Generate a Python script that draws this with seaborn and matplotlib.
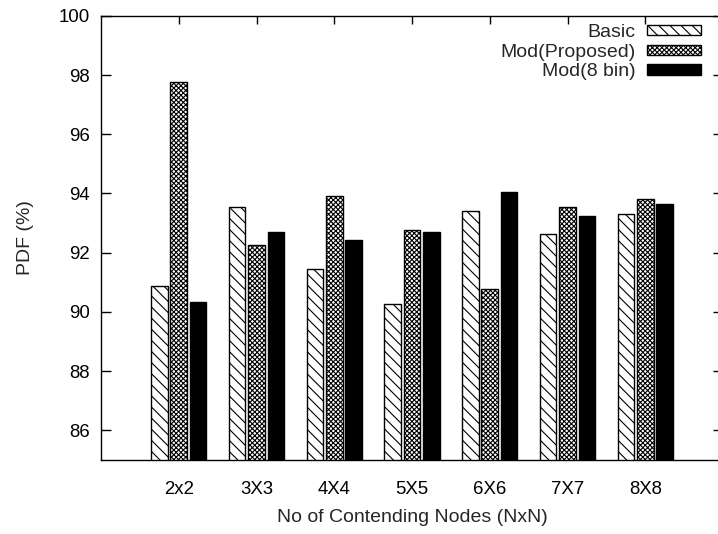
import matplotlib
matplotlib.use("Agg")
import matplotlib.pyplot as plt
import pandas as pd
import seaborn as sns

sns.set_style("white")
plt.rcParams["font.family"] = ["Liberation Sans", "DejaVu Sans"]
plt.rcParams["hatch.linewidth"] = 0.8

# values
grids = ["2x2", "3X3", "4X4", "5X5", "6X6", "7X7", "8X8"]
basic = [90.88, 93.53, 91.45, 90.27, 93.40, 92.62, 93.30]
proposed = [97.77, 92.25, 93.92, 92.77, 90.76, 93.56, 93.80]
bin8 = [90.32, 92.69, 92.43, 92.69, 94.06, 93.24, 93.64]
series = ["Basic", "Mod(Proposed)", "Mod(8 bin)"]
yticks = [86, 88, 90, 92, 94, 96, 98, 100]

hatches = ["\\\\\\", "xxxxxxx", ""]
fills = ["white", "white", "black"]

df = pd.DataFrame({
    "grid": grids * 3,
    "pdf": basic + proposed + bin8,
    "method": [s for s in series for _ in grids],
})

fig = plt.figure(figsize=(7.18, 5.34), dpi=100)
ax = fig.add_axes([101 / 718, 74 / 534, 622 / 718, 444.2 / 534])

sns.barplot(data=df, x="grid", y="pdf", hue="method", hue_order=series,
            palette=fills, saturation=1, width=0.75, gap=0.15,
            edgecolor="black", linewidth=1.0, legend=False, ax=ax)

for container, hatch in zip(ax.containers, hatches):
    for bar in container:
        bar.set_hatch(hatch)

ax.set_ylim(85, 100)
ax.set_xlim(-1, 7)
ax.set_yticks(yticks)

ax.tick_params(axis="y", direction="in", length=7, width=1, left=True,
               right=True, pad=8, labelsize=13.4, colors="black")
ax.tick_params(axis="x", direction="in", length=6, width=1, bottom=False,
               top=True, pad=15, labelsize=13.4, colors="black")
for sp in ax.spines.values():
    sp.set_visible(True)
    sp.set_color("black")
    sp.set_linewidth(1.0)

ax.set_xlabel("No of Contending Nodes (NxN)", fontsize=14)
ax.set_ylabel("PDF (%)", fontsize=14)
ax.xaxis.set_label_coords(0.5, -0.111)
ax.yaxis.set_label_coords(-0.107, 0.5)

ax.legend(handles=ax.containers, labels=series, loc="upper right",
          bbox_to_anchor=(701 / 718, 1 - 24 / 534), bbox_transform=fig.transFigure,
          frameon=False, markerfirst=False, handlelength=2.8, handleheight=0.45,
          handletextpad=0.55, labelspacing=0.14, borderpad=0, borderaxespad=0,
          fontsize=14)

fig.savefig("out.png", dpi=100)
